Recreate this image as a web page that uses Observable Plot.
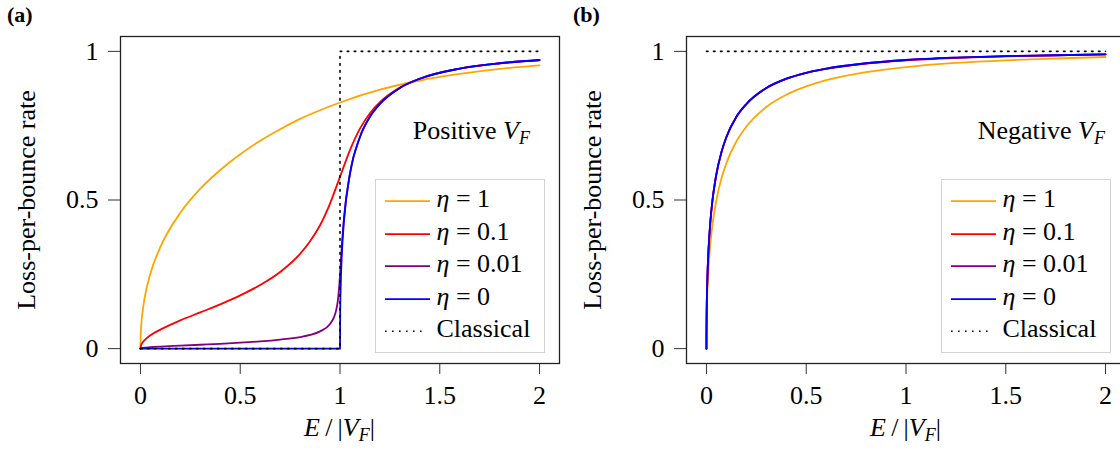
<!DOCTYPE html>
<html>
<head>
<meta charset="utf-8">
<script src="https://cdn.jsdelivr.net/npm/d3@7"></script>
<script src="https://cdn.jsdelivr.net/npm/@observablehq/plot@0.6"></script>
<style>
html,body{margin:0;padding:0;background:#fff;}
#wrap{position:relative;width:1120px;height:451px;overflow:hidden;font-family:"Liberation Serif","DejaVu Serif",serif;color:#000;}
.panel{position:absolute;top:0;width:566px;height:451px;}
.panel svg{position:absolute;left:0;top:0;}
.ov{position:absolute;white-space:nowrap;}
.tag{font-weight:bold;font-size:22px;left:7px;top:0;line-height:30px;}
.ytitle{font-size:26px;width:300px;text-align:center;line-height:30px;left:-123px;top:185px;transform:rotate(-90deg);}
.xtitle{font-size:26px;width:200px;text-align:center;line-height:30px;left:239.5px;top:413px;}
.note{font-size:26px;line-height:30px;text-align:right;width:300px;top:116px;}
.legend{left:375px;top:179px;width:170px;height:174px;box-sizing:border-box;border:1.5px solid #d3d3d3;background:#fff;}
.lrow{position:absolute;left:0;height:30px;line-height:30px;font-size:26px;white-space:nowrap;}
.lrow svg{position:absolute;left:8.5px;top:0;}
.lrow span.t{position:absolute;left:60.5px;top:0;}
.sub{font-size:18px;position:relative;top:5px;line-height:0;}
</style>
</head>
<body>
<div id="wrap"></div>
<script>
// ---------- data ----------
const seriesLabels = ["1", "0.1", "0.01", "0"];
const seriesColors = ["#FFA500", "#FF0000", "#800080", "#0000FF"];
const xTicks = [0, 0.5, 1, 1.5, 2];
const yTicks = [0, 0.5, 1];

// (a) Positive V_F
const posEta1X = [0,0.001,0.005,0.01,0.02,0.05,0.1,0.2,0.3,0.4,0.5,0.6,0.7,0.8,0.9,1.0,1.2,1.4,1.6,1.8,2.0];
const posEta1Y = [0,0.040,0.087,0.121,0.167,0.253,0.342,0.457,0.538,0.601,0.654,0.699,0.738,0.773,0.802,0.828,0.871,0.902,0.924,0.941,0.953];
const posEta01X = [0,0.001,0.01,0.02,0.05,0.1,0.2,0.3,0.4,0.5,0.6,0.7,0.8,0.85,0.9,0.95,1.0,1.05,1.1,1.15,1.2,1.3,1.4,1.6,1.8,2.0];
const posEta01Y = [0,0.006,0.020,0.028,0.045,0.064,0.095,0.122,0.149,0.179,0.214,0.258,0.319,0.361,0.415,0.488,0.578,0.668,0.740,0.792,0.829,0.878,0.908,0.942,0.960,0.970];
const posEta001X = [0,0.001,0.02,0.05,0.1,0.2,0.3,0.4,0.5,0.6,0.7,0.8,0.85,0.9,0.95,0.97,0.98,0.99,1.0,1.01,1.02,1.05,1.1,1.15,1.2,1.3,1.4,1.6,1.8,2.0];
const posEta001Y = [0,0.0006,0.003,0.0046,0.0067,0.010,0.0131,0.0163,0.020,0.0245,0.0306,0.039,0.046,0.058,0.083,0.106,0.127,0.166,0.246,0.355,0.440,0.590,0.712,0.780,0.823,0.877,0.908,0.942,0.960,0.971];
const posEta0X = [0,1.0,1.001,1.003,1.005,1.01,1.02,1.05,1.1,1.15,1.2,1.3,1.4,1.6,1.8,2.0];
const posEta0Y = [0,0,0.119,0.197,0.246,0.329,0.431,0.588,0.712,0.780,0.823,0.877,0.908,0.942,0.960,0.971];
const posClassicalX = [0,1,1,2];
const posClassicalY = [0,0,1,1];

// (b) Negative V_F
const negEta1X = [0,0.001,0.003,0.005,0.01,0.02,0.03,0.05,0.075,0.1,0.15,0.2,0.3,0.4,0.5,0.6,0.8,1.0,1.25,1.5,1.75,2.0];
const negEta1Y = [0,0.094,0.157,0.197,0.267,0.355,0.416,0.500,0.572,0.624,0.697,0.747,0.813,0.854,0.882,0.903,0.930,0.947,0.961,0.970,0.976,0.981];
const negX = [0,0.0001,0.001,0.003,0.005,0.01,0.02,0.03,0.05,0.075,0.1,0.15,0.2,0.3,0.4,0.5,0.6,0.8,1.0,1.25,1.5,1.75,2.0];
const negEta01Y = [0,0.039,0.118,0.196,0.245,0.328,0.430,0.497,0.587,0.660,0.711,0.779,0.822,0.876,0.907,0.928,0.941,0.959,0.970,0.978,0.983,0.987,0.990];
const negEta001Y = [0,0.039,0.119,0.197,0.246,0.329,0.431,0.498,0.588,0.661,0.712,0.780,0.823,0.877,0.908,0.928,0.942,0.960,0.971,0.979,0.984,0.987,0.990];
const negEta0Y = [0,0.039,0.119,0.197,0.246,0.329,0.431,0.498,0.588,0.661,0.712,0.780,0.823,0.877,0.908,0.928,0.942,0.960,0.971,0.979,0.984,0.987,0.990];
const negClassicalX = [0,2];
const negClassicalY = [1,1];

// ---------- helpers ----------
const FONT = '"Liberation Serif","DejaVu Serif",serif';
const rows = (xs, ys) => xs.map((x, i) => ({x, y: ys[i]}));
const fmt = d => String(+d);

function makePanel(left, tag, note, noteRight, curves, classical) {
  const panel = document.createElement("div");
  panel.className = "panel";
  panel.style.left = left + "px";

  const chart = Plot.plot({
    width: 566, height: 451,
    marginLeft: 120, marginRight: 7, marginTop: 36, marginBottom: 88,
    x: {domain: [-0.1, 2.1]},
    y: {domain: [-0.05, 1.05]},
    style: {fontFamily: FONT, fontSize: "26px", background: "transparent", color: "#000", overflow: "visible"},
    marks: [
      Plot.axisX({ticks: xTicks, tickFormat: fmt, tickSize: 11, tickPadding: 11, label: null, stroke: "#333"}),
      Plot.axisY({ticks: yTicks, tickFormat: fmt, tickSize: 12, tickPadding: 10, label: null, stroke: "#333"}),
      ...curves.map((c, i) => Plot.line(rows(c[0], c[1]), {
        x: "x", y: "y", stroke: seriesColors[i], strokeWidth: 1.8, curve: "monotone-x"
      })),
      Plot.line(rows(classical[0], classical[1]), {
        x: "x", y: "y", stroke: "#000", strokeWidth: 1.6, strokeDasharray: "1.6,5.4"
      }),
      Plot.frame({stroke: "#222", strokeWidth: 1.3})
    ]
  });
  panel.appendChild(chart);

  const add = (cls, html, extra) => {
    const d = document.createElement("div");
    d.className = "ov " + cls;
    d.innerHTML = html;
    if (extra) Object.assign(d.style, extra);
    panel.appendChild(d);
    return d;
  };
  add("tag", tag);
  add("ytitle", "Loss-per-bounce rate");
  add("xtitle", '<i>E</i>&#8201;/&#8201;|<i>V</i><i class="sub">F</i>|');
  add("note", note + ' <i>V</i><i class="sub">F</i>', {left: (noteRight - 300) + "px"});

  const leg = add("legend", "");
  const entries = seriesLabels.map((v, i) => ({html: '<i>η</i> = ' + v, color: seriesColors[i], dash: null}))
    .concat([{html: "Classical", color: "#000", dash: "1.6,5.4"}]);
  entries.forEach((e, i) => {
    const r = document.createElement("div");
    r.className = "lrow";
    r.style.top = (4 + i * 32.5) + "px";
    const w = e.dash ? 42 : 45;
    r.innerHTML = `<svg width="46" height="30"><line x1="0" x2="${w}" y1="17.2" y2="17.2" stroke="${e.color}" stroke-width="${e.dash ? 1.6 : 1.8}" ${e.dash ? `stroke-dasharray="${e.dash}"` : ""}/></svg><span class="t">${e.html}</span>`;
    leg.appendChild(r);
  });
  return panel;
}

const wrap = document.getElementById("wrap");
wrap.appendChild(makePanel(0, "(a)", "Positive", 530,
  [[posEta1X, posEta1Y], [posEta01X, posEta01Y], [posEta001X, posEta001Y], [posEta0X, posEta0Y]],
  [posClassicalX, posClassicalY]));
wrap.appendChild(makePanel(566, "(b)", "Negative", 539,
  [[negEta1X, negEta1Y], [negX, negEta01Y], [negX, negEta001Y], [negX, negEta0Y]],
  [negClassicalX, negClassicalY]));
</script>
</body>
</html>
